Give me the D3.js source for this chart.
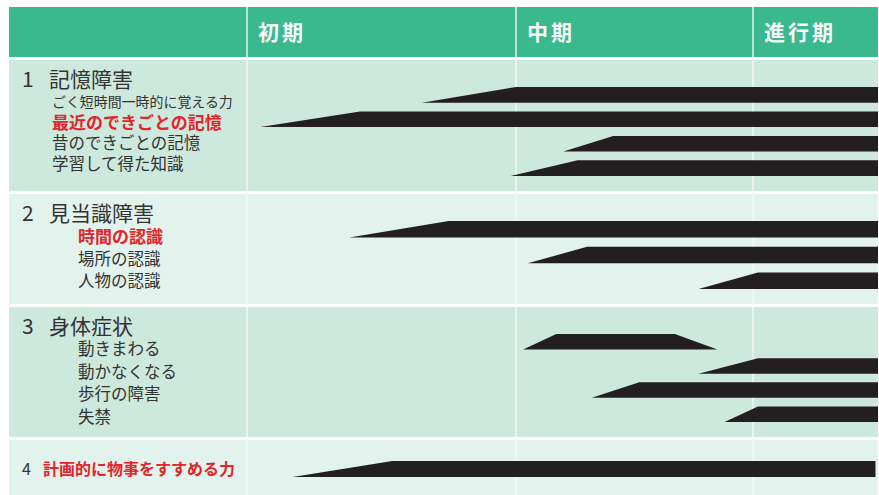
<!DOCTYPE html>
<html>
<head>
<meta charset="utf-8">
<script src="https://cdn.jsdelivr.net/npm/d3@7"></script>
<style>
  body { margin: 0; background: #fff; }
  svg { display: block; font-family: "Noto Sans CJK JP", "Noto Sans", sans-serif; }
</style>
</head>
<body>
<svg id="chart" width="879" height="495"></svg>
<script>
// Stages of progression (column headers)
const stages = ["初期", "中期", "進行期"];

// Symptom groups
const groups = ["記憶障害", "見当識障害", "身体症状", "計画的に物事をすすめる力"];

// Individual symptoms and the group each belongs to ("" = drawn on the group's own line)
const symptoms = [
  "ごく短時間一時的に覚える力", "最近のできごとの記憶", "昔のできごとの記憶", "学習して得た知識",
  "時間の認識", "場所の認識", "人物の認識",
  "動きまわる", "動かなくなる", "歩行の障害", "失禁",
  ""
];
const symptomGroup = [0, 0, 0, 0, 1, 1, 1, 2, 2, 2, 2, 3];

// Key symptoms, shown in red
const highlighted = ["最近のできごとの記憶", "時間の認識", "計画的に物事をすすめる力"];

// Position on the stage axis (0 = start of 初期, 3 = end of 進行期) where each symptom
// starts to appear, reaches full strength, starts to fade, and is gone
const onsetBegin = [0.65, 0.05, 1.20, 0.98, 0.38, 1.05, 1.77, 1.03, 1.77, 1.32, 1.88, 0.17];
const onsetFull  = [1.00, 0.42, 1.41, 1.26, 0.75, 1.30, 2.04, 1.17, 2.04, 1.52, 2.04, 0.54];
const fadeBegin  = [3, 3, 3, 3, 3, 3, 3, 1.67, 3, 3, 3, 2.98];
const fadeEnd    = [3, 3, 3, 3, 3, 3, 3, 1.85, 3, 3, 3, 2.98];

// ---- layout ----
const tableLeft = 9, tableRight = 878;
const headerTop = 7, headerBottom = 57;
const bodyTop = 60, groupGap = 3;
const groupHeights = [131, 110, 130, 55];
const itemIndent = [52, 78, 78];
const labelStep = [20.5, 22.5, 22.7];
const labelSize = 16.5, keyLabelSize = 17;

const colors = {
  header: "#3ab88e",
  headerText: "#f6f8f7",
  rowDark: "#cde8dc",
  rowLight: "#e2f2ec",
  divider: "#f1f9f5",
  text: "#333333",
  accent: "#e3242b",
  bar: "#231f20"
};

const svg = d3.select("#chart");

// stage axis: each stage column has its own width
const x = d3.scaleLinear().domain([0, 1, 2, 3]).range([247, 516, 753, tableRight]);

// group bands
const groupTop = [];
groups.forEach((g, i) => {
  groupTop.push(i === 0 ? bodyTop : groupTop[i - 1] + groupHeights[i - 1] + groupGap);
});
const groupBottom = groups.map((g, i) => groupTop[i] + groupHeights[i]);

// ---- header ----
svg.append("rect")
  .attr("x", tableLeft).attr("y", headerTop)
  .attr("width", tableRight - tableLeft).attr("height", headerBottom - headerTop)
  .attr("fill", colors.header);

svg.append("g").selectAll("line")
  .data([0, 1, 2])
  .join("line")
  .attr("x1", d => x(d)).attr("x2", d => x(d))
  .attr("y1", headerTop).attr("y2", headerBottom)
  .attr("stroke", "#e6f5ee").attr("stroke-width", 1.5);

svg.append("g").selectAll("text")
  .data(stages)
  .join("text")
  .attr("x", (d, i) => x(i) + 11)
  .attr("y", (headerTop + headerBottom) / 2 - 1)
  .attr("dominant-baseline", "central")
  .attr("font-size", 21)
  .attr("font-weight", 700)
  .attr("letter-spacing", 3)
  .attr("fill", colors.headerText)
  .text(d => d);

// ---- group rows ----
svg.append("g").selectAll("rect")
  .data(groups)
  .join("rect")
  .attr("x", tableLeft)
  .attr("y", (d, i) => groupTop[i])
  .attr("width", tableRight - tableLeft)
  .attr("height", (d, i) => groupHeights[i])
  .attr("fill", (d, i) => i % 2 === 0 ? colors.rowDark : colors.rowLight);

svg.append("g").selectAll("line")
  .data([0, 1, 2])
  .join("line")
  .attr("x1", d => x(d)).attr("x2", d => x(d))
  .attr("y1", bodyTop).attr("y2", 495)
  .attr("stroke", colors.divider).attr("stroke-width", 1.5);

// vertical placement of each symptom's bar inside its group
const inlineGroup = i => symptoms.some((s, k) => symptomGroup[k] === i && s === "");
const barBand = groups.map((g, i) => {
  const idx = symptoms.map((s, k) => k).filter(k => symptomGroup[k] === i);
  if (inlineGroup(i)) {
    return d3.scaleBand().domain(idx).range([groupTop[i] + 21, groupTop[i] + 37]).padding(0);
  }
  return d3.scaleBand().domain(idx)
    .range([groupTop[i] + 27, groupBottom[i] - 15])
    .paddingInner(0.36);
});

// ---- group titles ----
const titles = svg.append("g");
groups.forEach((g, i) => {
  const inline = inlineGroup(i);
  const k = symptomGroup.indexOf(i);
  const cy = inline ? barBand[i](k) + barBand[i].bandwidth() / 2 - 1 : groupTop[i] + 18;
  titles.append("text")
    .attr("x", 22).attr("y", cy)
    .attr("dominant-baseline", "central")
    .attr("font-size", inline ? 16 : 21)
    .attr("fill", colors.text)
    .text(i + 1);
  titles.append("text")
    .attr("x", inline ? 43 : 49).attr("y", cy)
    .attr("dominant-baseline", "central")
    .attr("font-size", inline ? 16 : 21)
    .attr("font-weight", highlighted.includes(g) ? 700 : 400)
    .attr("fill", highlighted.includes(g) ? colors.accent : colors.text)
    .text(g);
});

// ---- symptom labels ----
const labelColRight = x(0) - 14;
const labels = svg.append("g");
symptoms.forEach((s, k) => {
  if (s === "") return;
  const gi = symptomGroup[k];
  const pos = symptoms.filter((t, j) => j < k && symptomGroup[j] === gi).length;
  const isKey = highlighted.includes(s);
  const size = isKey ? keyLabelSize : labelSize;
  const t = labels.append("text")
    .attr("x", itemIndent[gi])
    .attr("y", groupTop[gi] + 41 + pos * labelStep[gi])
    .attr("dominant-baseline", "central")
    .attr("font-size", size)
    .attr("font-weight", isKey ? 700 : 400)
    .attr("fill", isKey ? colors.accent : colors.text)
    .text(s);
  // shrink labels that would run into the stage columns
  const w = t.node().getComputedTextLength();
  const maxW = labelColRight - itemIndent[gi];
  if (w > maxW) t.attr("font-size", size * maxW / w);
});

// ---- symptom bars: ramp up, full strength, optional ramp down ----
svg.append("g").selectAll("path")
  .data(symptoms.map((s, k) => k))
  .join("path")
  .attr("fill", colors.bar)
  .attr("d", k => {
    const band = barBand[symptomGroup[k]];
    const top = band(k), bottom = band(k) + band.bandwidth();
    return d3.line()([
      [x(onsetBegin[k]), bottom],
      [x(onsetFull[k]), top],
      [x(fadeBegin[k]), top],
      [x(fadeEnd[k]), bottom]
    ]) + "Z";
  });
</script>
</body>
</html>
